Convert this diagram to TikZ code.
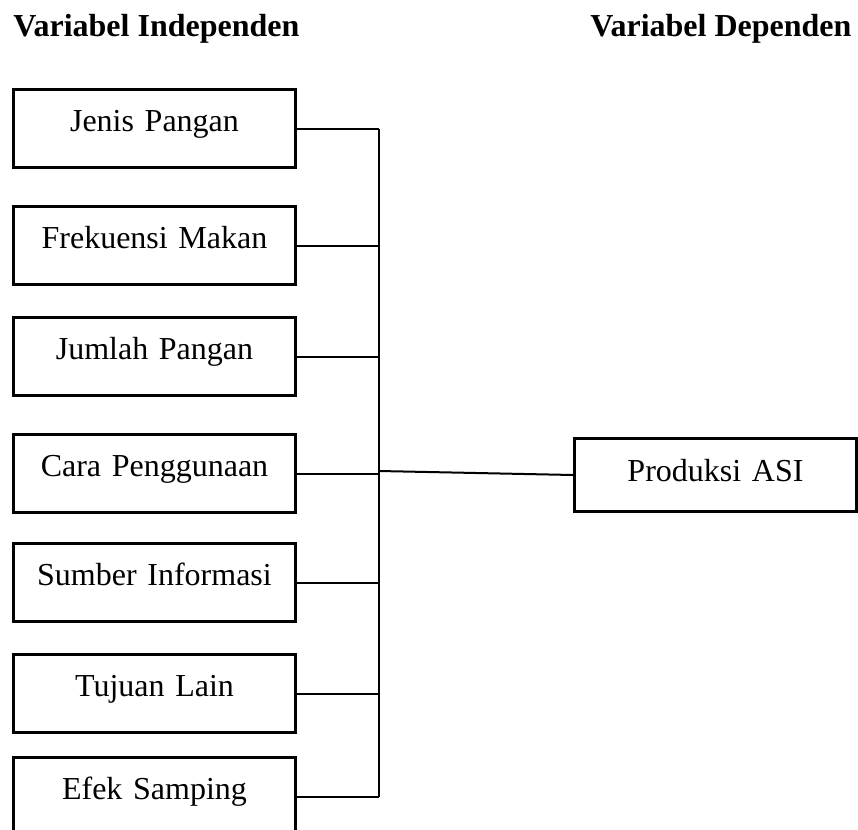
\documentclass[tikz,border=0pt]{standalone}
\usepackage{fontspec}
\setmainfont{Liberation Serif}
\begin{document}
\begin{tikzpicture}[x=0.5pt,y=-0.5pt,
  varbox/.style={draw,line width=1.5pt,rectangle,inner sep=0pt,
    minimum width=141pt,text width=141pt,align=center,
    text height=21pt,text depth=18pt,anchor=north west,
    font=\fontsize{16}{19}\selectfont},
  outbox/.style={varbox,text height=21.5pt,text depth=15pt},
  link/.style={line width=1pt},
  title/.style={anchor=base west,inner sep=0pt,font=\fontsize{16}{19}\selectfont\bfseries}]
\useasboundingbox (0,0) rectangle (858,830);
\node[title] (t1) at (13,36) {Variabel Independen};
\node[title] (t2) at (590,36.5) {Variabel Dependen};
\node[varbox] (b1) at (12,88)  {Jenis Pangan};
\node[varbox] (b2) at (12,205) {Frekuensi Makan};
\node[varbox] (b3) at (12,316) {Jumlah Pangan};
\node[varbox] (b4) at (12,433) {Cara Penggunaan};
\node[varbox] (b5) at (12,542) {Sumber Informasi};
\node[varbox] (b6) at (12,653) {Tujuan Lain};
\node[varbox] (b7) at (12,756) {Efek Samping};
\node[outbox] (p) at (573,437) {Produksi ASI};
\coordinate (spine) at (379,0);
\coordinate (j) at (379,471);
\foreach \b in {b1,b2,b3,b4,b5,b6,b7}
  \draw[link] (\b.east) -- (\b.east -| spine);
\draw[line width=1pt] (b1.east -| spine) -- (b7.east -| spine);
\draw[link] (j) -- (p.west);
\end{tikzpicture}
\end{document}
